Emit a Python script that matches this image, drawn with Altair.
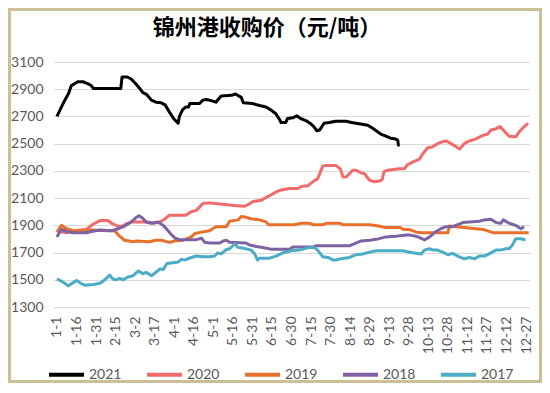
import altair as alt
import pandas as pd

YEARS = ["2021", "2020", "2019", "2018", "2017"]
COLORS = ["#000000", "#F26A6A", "#E8702A", "#7E62A3", "#4AACC5"]
X_LABELS = ["1-1", "1-16", "1-31", "2-15", "3-2", "3-17", "4-1", "4-16", "5-1", "5-16",
            "5-31", "6-15", "6-30", "7-15", "7-30", "8-14", "8-29", "9-13", "9-28",
            "10-13", "10-28", "11-12", "11-27", "12-12", "12-27"]
X_TICKS = [0, 15, 30, 45, 60, 75, 90, 105, 120, 135, 150, 165, 180, 195, 210, 225,
           240, 255, 270, 285, 300, 315, 330, 345, 360]
Y_TICKS = [1300, 1500, 1700, 1900, 2100, 2300, 2500, 2700, 2900, 3100]
TITLE = "锦州港收购价（元/吨）"

d2021 = [0, 5, 9, 11, 16, 20, 24, 26.5, 28, 49, 50, 54, 57, 60.5, 64, 66, 69, 72.5, 76, 80,
         83, 86.5, 89.5, 93, 94, 96.5, 99, 101, 102, 109.5, 112, 114.5, 117, 122, 126, 134,
         137, 141.5, 143, 150, 155.5, 160.5, 164.5, 168, 171, 172, 175.5, 177, 181, 184, 187,
         191, 195, 197.5, 199.5, 201.5, 205, 209, 214, 222, 226, 233, 238.5, 242, 245, 248.5,
         252.5, 256, 260, 261.5, 262, 263]
v2021 = [2700, 2800, 2870, 2925, 2955, 2955, 2940, 2925, 2905, 2905, 2990, 2990, 2975, 2940,
         2900, 2875, 2860, 2820, 2805, 2800, 2785, 2730, 2685, 2650, 2700, 2750, 2770, 2770,
         2795, 2795, 2820, 2825, 2820, 2805, 2850, 2855, 2865, 2840, 2800, 2795, 2780, 2770,
         2745, 2720, 2675, 2655, 2655, 2685, 2690, 2705, 2685, 2670, 2645, 2620, 2595, 2600,
         2650, 2655, 2665, 2665, 2655, 2645, 2635, 2615, 2595, 2570, 2555, 2540, 2535, 2525,
         2490, 2485]

d2020 = [0, 7, 12.5, 22.5, 28, 33, 39, 42, 45.5, 48, 53, 57, 68.5, 74, 79, 82.5, 86.5, 99,
         103, 107, 112, 117, 127, 136, 144, 148, 150.5, 157, 160.5, 164.5, 168, 172, 178.5,
         185, 187.5, 192.5, 195, 198.5, 200, 204, 206.5, 214, 217.5, 219.5, 222, 227, 229.5,
         233.5, 236, 239.5, 243.5, 247.5, 249.5, 251, 254, 262.5, 266.5, 269, 274, 278, 281,
         284.5, 288, 292, 296, 298.5, 302.5, 306, 309, 312.5, 316.5, 321.5, 326.5, 330.5,
         333, 337, 340, 343.5, 347, 352, 355, 358, 361.5]
v2020 = [1860, 1845, 1860, 1870, 1910, 1935, 1935, 1915, 1900, 1885, 1910, 1925, 1925, 1915,
         1925, 1945, 1975, 1975, 2000, 2010, 2060, 2065, 2055, 2045, 2040, 2060, 2075, 2085,
         2105, 2125, 2145, 2160, 2170, 2170, 2185, 2190, 2210, 2235, 2240, 2335, 2340, 2340,
         2315, 2255, 2255, 2305, 2305, 2285, 2280, 2235, 2220, 2225, 2235, 2295, 2305, 2315,
         2315, 2345, 2370, 2385, 2430, 2470, 2475, 2500, 2515, 2520, 2500, 2480, 2460, 2500,
         2520, 2535, 2560, 2570, 2600, 2610, 2625, 2590, 2555, 2550, 2590, 2620, 2650]

d2019 = [0, 3.5, 7.5, 12.5, 22.5, 26.5, 39, 44.5, 47, 52, 58.5, 61, 71, 76, 80, 86.5, 90,
         96.5, 103, 106, 111, 117, 122, 130, 132.5, 139, 141.5, 145, 148, 155.5, 160.5, 162.5,
         182, 187.5, 194, 196.5, 204, 206.5, 217, 219.5, 240, 247, 251, 263, 266, 270, 276,
         280, 300, 301, 316, 327, 335, 362]
v2019 = [1850, 1900, 1875, 1860, 1860, 1865, 1860, 1860, 1830, 1790, 1780, 1785, 1780, 1790,
         1790, 1775, 1785, 1790, 1815, 1840, 1850, 1860, 1890, 1890, 1930, 1940, 1965, 1960,
         1950, 1940, 1925, 1905, 1905, 1915, 1915, 1905, 1905, 1915, 1915, 1905, 1905, 1895,
         1885, 1885, 1870, 1870, 1850, 1845, 1845, 1895, 1880, 1870, 1845, 1845]

d2018 = [0, 1.5, 3.5, 7.5, 12.5, 22.5, 26.5, 33, 42, 47, 52, 57, 60.5, 63, 65.5, 68.5, 72.5,
         77.5, 81.5, 84, 88, 91, 94, 107, 111, 113.5, 117, 125, 127.5, 130, 132.5, 145, 148,
         153, 159, 164.5, 178.5, 181, 196.5, 199, 224.5, 228.5, 233.5, 240, 245, 252.5, 260,
         270, 275.5, 279.5, 282, 286, 291, 294.5, 298.5, 303.5, 307.5, 311.5, 316.5, 324, 328,
         333, 337, 340.5, 342.5, 347, 352, 356, 358.5]
v2018 = [1815, 1840, 1870, 1855, 1845, 1845, 1855, 1865, 1860, 1875, 1895, 1925, 1955, 1970,
         1955, 1925, 1915, 1925, 1900, 1875, 1830, 1805, 1795, 1795, 1805, 1775, 1770, 1770,
         1785, 1790, 1775, 1770, 1755, 1745, 1735, 1725, 1725, 1740, 1740, 1750, 1750, 1765,
         1785, 1790, 1797, 1815, 1820, 1830, 1820, 1805, 1792, 1815, 1855, 1875, 1890, 1890,
         1905, 1920, 1925, 1930, 1940, 1945, 1920, 1915, 1940, 1915, 1900, 1875, 1890]

d2017 = [0, 2.5, 6, 8.5, 11, 15, 19, 21.5, 28, 33, 35.5, 39, 40.5, 43, 45.5, 48, 51, 54.5,
         58.5, 62.5, 66, 68.5, 72.5, 76, 79, 81.5, 84.5, 89, 93, 95.5, 98, 102, 107, 112, 117,
         121, 123.5, 126, 130, 132.5, 136.5, 139, 142.5, 149, 151.5, 154, 155.5, 163, 168,
         173.5, 180, 186, 194, 197.5, 200, 204, 208, 212, 214, 218, 224.5, 229.5, 234.5, 240,
         245, 265, 273, 279.5, 282, 286, 288.5, 292, 296, 300, 303.5, 307.5, 312.5, 316.5,
         320.5, 324, 328, 333, 337, 340.5, 344.5, 347, 349.5, 352, 356, 359.5]
v2017 = [1505, 1495, 1475, 1455, 1470, 1495, 1470, 1460, 1465, 1475, 1490, 1520, 1535, 1505,
         1500, 1510, 1500, 1520, 1530, 1565, 1545, 1555, 1530, 1555, 1580, 1575, 1620, 1625,
         1630, 1650, 1645, 1660, 1675, 1670, 1670, 1675, 1698, 1690, 1722, 1728, 1765, 1738,
         1733, 1718, 1694, 1645, 1659, 1659, 1674, 1698, 1713, 1718, 1738, 1738, 1718, 1669,
         1664, 1645, 1645, 1654, 1664, 1684, 1689, 1703, 1713, 1713, 1698, 1689, 1718, 1728,
         1718, 1718, 1703, 1684, 1694, 1674, 1654, 1664, 1654, 1674, 1674, 1698, 1718, 1718,
         1728, 1728, 1755, 1801, 1801, 1792]

series = {"2021": (d2021, v2021), "2020": (d2020, v2020), "2019": (d2019, v2019),
          "2018": (d2018, v2018), "2017": (d2017, v2017)}

rows = []
for yr, (ds, vs) in series.items():
    for d, v in zip(ds, vs):
        rows.append({"year": yr, "day": d, "price": v})
df = pd.DataFrame(rows)

label_expr = "[" + ",".join("'%s'" % s for s in X_LABELS) + "][round(datum.value / 15)]"

x_enc = alt.X("day:Q",
              scale=alt.Scale(domain=[-3, 363], nice=False, zero=False),
              axis=alt.Axis(values=X_TICKS, labelExpr=label_expr, labelAngle=-90,
                            grid=False, domain=False, ticks=False, labelPadding=9,
                            labelFont="Lato", labelFontSize=14, labelColor="#595959",
                            labelOverlap=False, title=None))
y_enc = alt.Y("price:Q",
              scale=alt.Scale(domain=[1300, 3100], nice=False, zero=False),
              axis=alt.Axis(values=Y_TICKS, format="d", grid=True, gridColor="#D9D9D9",
                            gridWidth=1, domain=False, ticks=False, labelPadding=10,
                            labelFont="Lato", labelFontSize=14, labelColor="#595959",
                            title=None))
color_enc = alt.Color("year:N",
                      scale=alt.Scale(domain=YEARS, range=COLORS),
                      legend=alt.Legend(orient="none", legendX=-6, legendY=293,
                                        direction="horizontal", columns=5,
                                        symbolType="stroke", symbolSize=1225,
                                        symbolStrokeWidth=4, labelFont="Lato",
                                        labelFontSize=14, labelColor="#595959",
                                        labelOffset=3, columnPadding=17, padding=0,
                                        title=None))

lines = []
for yr in YEARS:
    lines.append(
        alt.Chart(df[df["year"] == yr]).mark_line(strokeWidth=3, strokeJoin="round")
        .encode(x=x_enc, y=y_enc, color=color_enc)
    )

one = pd.DataFrame({"k": [0]})
frame = alt.Chart(one).mark_rect(fillOpacity=0, stroke="#CBBF95", strokeWidth=3).encode(
    x=alt.value(-43.5), x2=alt.value(487.5), y=alt.value(-52.5), y2=alt.value(319.5))
title = alt.Chart(one).mark_text(text=TITLE, font="Noto Sans CJK SC", fontSize=22,
                                 fontWeight="bold", color="#000000", align="center",
                                 baseline="middle").encode(
    x=alt.value(214), y=alt.value(-34))

chart = alt.layer(frame, *lines, title).properties(
    width=477, height=245,
    padding={"left": 45, "top": 54, "right": 12, "bottom": 76},
    autosize=alt.AutoSizeParams(type="none"),
).configure_view(stroke=None)

chart.save("out.html", embed_options={"renderer": "svg", "actions": False})
